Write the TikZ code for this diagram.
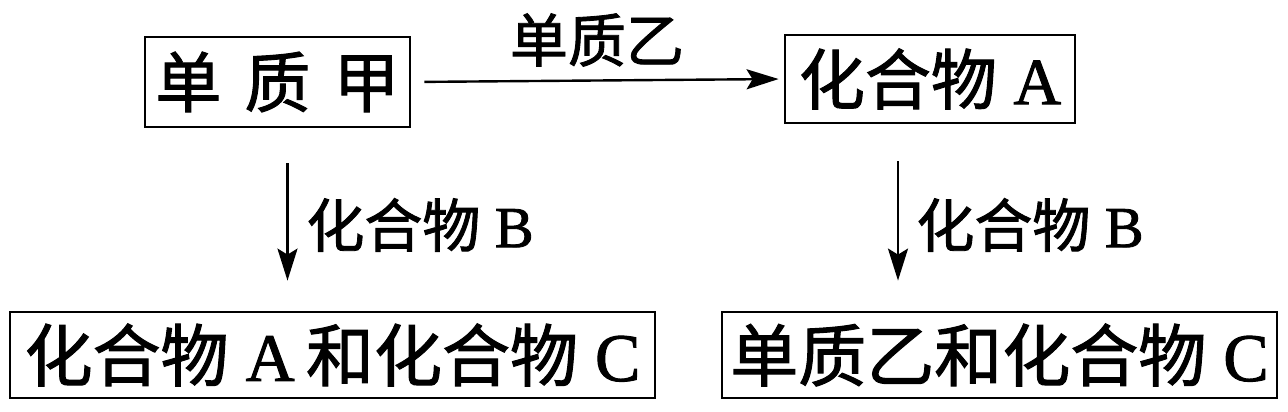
\documentclass[tikz,border=0pt]{standalone}
\usepackage{fontspec}
\setmainfont[FakeBold=1.5]{Liberation Serif}
\newfontfamily\cjk[FakeBold=1.5]{Noto Sans CJK SC}
\usetikzlibrary{arrows.meta}
\begin{document}
\begin{tikzpicture}[x=1pt,y=1pt,
  box/.style={draw,line width=2.8pt,inner sep=0pt},
  big/.style={font=\fontsize{66}{66}\selectfont},
  huge/.style={font=\fontsize{68}{68}\selectfont},
  lbl/.style={inner sep=0pt,font=\fontsize{58}{58}\selectfont},
  arr/.style={line width=2.4pt,-{Stealth[length=32pt,width=20pt,inset=6pt]}}]
\useasboundingbox (0,0) rectangle (1288,412);
\node[box,big,minimum width=265pt,minimum height=90pt] (a) at (277.5,330) {{\cjk 单}\hspace{0.35em}{\cjk 质}\hspace{0.35em}{\cjk 甲}};
\node[box,big,minimum width=290pt,minimum height=88pt] (b) at (930,333) {{\cjk 化合物} A};
\node[box,huge,minimum width=645pt,minimum height=86pt] (c) at (332.5,57) {{\cjk 化合物} A\,{\cjk 和化合物} C};
\node[box,huge,minimum width=555pt,minimum height=86pt] (d) at (999.5,57) {{\cjk 单质乙和化合物} C};
\draw[arr,shorten <=13pt,shorten >=5pt] (a.east) -- (b.west);
\node[lbl] (l1) at (597,372) {\cjk 单质乙};
\draw[arr,shorten <=35pt,shorten >=30pt] ([xshift=10pt]a.south) -- ([xshift=10pt]a.south |- c.north);
\node[lbl] (l2) at (420,187) {{\cjk 化合物} B};
\draw[arr,shorten <=37pt,shorten >=30pt] ([xshift=-32pt]b.south) -- ([xshift=-32pt]b.south |- d.north);
\node[lbl] (l3) at (1030,187) {{\cjk 化合物} B};
\end{tikzpicture}
\end{document}
